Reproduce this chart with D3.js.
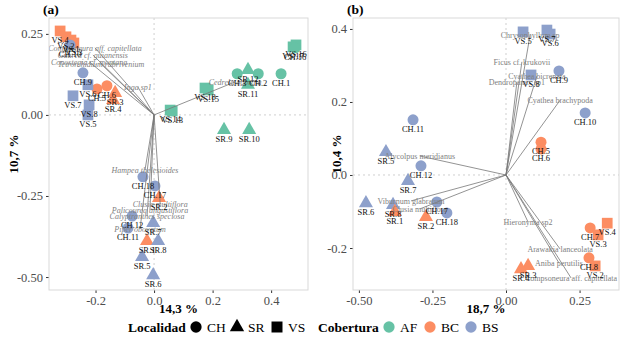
<!DOCTYPE html>
<html><head><meta charset="utf-8">
<script src="https://cdn.jsdelivr.net/npm/d3@7"></script>
<style>
body{margin:0;background:#fff;}
svg text{font-family:'Liberation Serif','Times New Roman',Times,'DejaVu Serif',serif !important;}
</style></head>
<body><svg id="c" width="623" height="343"></svg>
<script>
// ---------- Panel (a) data ----------
const aLabels = ["VS.18","VS.15","VS.14","VS.13","VS.17","VS.16","CH.16","CH.3","CH.2","CH.1","SR.12","SR.11","SR.9","SR.10",
  "VS.4","VS.2","VS.1","VS.3","CH.5","CH.6","SR.3","SR.4","SR.2","SR.1",
  "CH.10","CH.9","VS.6","VS.7","VS.8","VS.5","CH.18","CH.17","CH.12","CH.11","SR.7","SR.8","SR.5","SR.6"];
const aX = [0.174,0.185,0.055,0.062,0.475,0.485,0.482,0.284,0.356,0.434,0.321,0.321,0.239,0.325,
  -0.321,-0.301,-0.284,-0.274,-0.195,-0.161,-0.133,-0.140,0.017,-0.024,
  -0.287,-0.243,-0.226,-0.277,-0.222,-0.226,-0.038,0.003,-0.075,-0.089,-0.003,0.014,-0.041,-0.003];
const aY = [0.083,0.077,0.015,0.012,0.210,0.216,0.207,0.127,0.127,0.127,0.139,0.093,-0.046,-0.046,
  0.259,0.241,0.231,0.222,0.080,0.090,0.068,0.046,-0.256,-0.389,
  0.216,0.130,0.093,0.059,0.031,0.000,-0.191,-0.219,-0.312,-0.349,-0.333,-0.389,-0.438,-0.494];
const aLoc = aLabels.map(l => l.split(".")[0]);
const aCov = ["AF","AF","AF","AF","AF","AF","AF","AF","AF","AF","AF","AF","AF","AF",
  "BC","BC","BC","BC","BC","BC","BC","BC","BC","BC",
  "BS","BS","BS","BS","BS","BS","BS","BS","BS","BS","BS","BS","BS","BS"];
const aSpecies = ["Compsoneura aff. capitellata","Guarea cf. guianensis","Conostegia cf. montana","Tetrorchidium rubrivenium",
  "Inga sp1","Cedrela odorata","Hampea thelesioides","Clusia multiflora","Palicourea angustiflora","Calyptranthes speciosa","Piper obovatum"];
const aSpX = [-0.202,-0.209,-0.222,-0.181,-0.055,0.277,-0.031,0.021,-0.014,-0.024,-0.048];
const aSpY = [0.207,0.185,0.164,0.157,0.086,0.102,-0.170,-0.275,-0.293,-0.312,-0.352];
const aXTicks = [-0.2,0,0.2,0.4], aXTickLabels = ["-0.2","0.0","0.2","0.4"];
const aYTicks = [0.25,0,-0.25,-0.5], aYTickLabels = ["0.25","0.00","-0.25","-0.50"];

// ---------- Panel (b) data ----------
const bLabels = ["VS.5","VS.7","VS.6","VS.8","CH.9","CH.10","CH.11","SR.5","CH.12","SR.7","SR.6","SR.8","CH.17","CH.18",
  "SR.1","SR.2","CH.5","CH.6","CH.7","VS.4","VS.3","CH.8","VS.2","SR.3","SR.4"];
const bX = [0.058,0.139,0.150,0.085,0.180,0.269,-0.316,-0.408,-0.289,-0.333,-0.476,-0.384,-0.235,-0.201,
  -0.378,-0.272,0.119,0.119,0.286,0.344,0.313,0.282,0.303,0.075,0.051];
const bY = [0.392,0.397,0.386,0.274,0.285,0.170,0.151,0.063,0.025,-0.016,-0.077,-0.082,-0.074,-0.104,
  -0.101,-0.115,0.090,0.071,-0.145,-0.132,-0.164,-0.227,-0.249,-0.249,-0.258];
const bLoc = bLabels.map(l => l.split(".")[0]);
const bCov = ["BS","BS","BS","BS","BS","BS","BS","BS","BS","BS","BS","BS","BS","BS",
  "BC","BC","BC","BC","BC","BC","BC","BC","BC","BC","BC"];
const bSpecies = ["Chrysophyllum sp","Ficus cf. krukovii","Cyathea bicrenata","Dendropanax sp1","Cyathea brachypoda",
  "Alycolpus meridianus","Viburnum glabratum","Clusia multiflora","Hieronyma sp2","Arawakia lanceolata","Aniba perutilis","Compsoneura aff. capitellata"];
const bSpX = [0.082,0.054,0.105,0.037,0.184,-0.293,-0.323,-0.293,0.075,0.184,0.180,0.221];
const bSpY = [0.384,0.310,0.271,0.255,0.205,0.052,-0.071,-0.093,-0.129,-0.203,-0.241,-0.282];
const bXTicks = [-0.5,-0.25,0,0.25], bXTickLabels = ["-0.50","-0.25","0.00","0.25"];
const bYTicks = [0.4,0.2,0,-0.2], bYTickLabels = ["0.4","0.2","0.0","-0.2"];

const covColors = {AF:"#66c2a5", BC:"#fc8d62", BS:"#8da0cb"};
const covLevels = ["AF","BC","BS"];
const locLevels = ["CH","SR","VS"];

const svg = d3.select("#c");

function shapePath(loc, s){
  s = s || 1;
  if(loc==="CH") return d3.symbol(d3.symbolCircle, 95*s)();
  if(loc==="SR") return d3.symbol(d3.symbolTriangle, 85*s)();
  return d3.symbol(d3.symbolSquare, 115*s)();
}

function panel(opt){
  const x = d3.scaleLinear().domain(opt.xd).range([opt.l, opt.r]);
  const y = d3.scaleLinear().domain(opt.yd).range([opt.b, opt.t]);
  const g = svg.append("g");
  const cid = "clip"+opt.title.replace(/\W/g,"");
  svg.append("defs").append("clipPath").attr("id",cid).append("rect")
    .attr("x",opt.l).attr("y",opt.t).attr("width",opt.r-opt.l).attr("height",opt.b-opt.t);
  const gi = g.append("g").attr("clip-path",`url(#${cid})`);
  gi.append("line").attr("x1",x(0)).attr("x2",x(0)).attr("y1",opt.t).attr("y2",opt.b)
    .attr("stroke","#cfcfcf").attr("stroke-dasharray","2,3").attr("stroke-width",1);
  gi.append("line").attr("x1",opt.l).attr("x2",opt.r).attr("y1",y(0)).attr("y2",y(0))
    .attr("stroke","#cfcfcf").attr("stroke-dasharray","2,3").attr("stroke-width",1);
  const xa = d3.axisBottom(x).tickValues(opt.xt).tickFormat((d,i)=>opt.xtl[i]).tickSize(3).tickPadding(3);
  const ya = d3.axisLeft(y).tickValues(opt.yt).tickFormat((d,i)=>opt.ytl[i]).tickSize(3).tickPadding(3);
  const gx = g.append("g").attr("transform",`translate(0,${opt.b})`).call(xa);
  const gy = g.append("g").attr("transform",`translate(${opt.l},0)`).call(ya);
  [gx,gy].forEach(a=>{
    a.attr("font-family",null);
    a.select(".domain").remove();
    a.selectAll("line").attr("stroke","#333");
    a.selectAll("text").attr("fill","#4d4d4d").style("font-size","12.5px");
  });
  g.append("rect").attr("x",opt.l).attr("y",opt.t).attr("width",opt.r-opt.l).attr("height",opt.b-opt.t)
    .attr("fill","none").attr("stroke","#d9d9d9").attr("stroke-width",1);
  const pts = opt.labels.map((l,i)=>({l, x:opt.px[i], y:opt.py[i], loc:opt.loc[i], cov:opt.cov[i]}));
  gi.selectAll("path.pt").data(pts).join("path").attr("class","pt")
    .attr("d",d=>shapePath(d.loc))
    .attr("transform",d=>`translate(${x(d.x)},${y(d.y)})`)
    .attr("fill",d=>covColors[d.cov]);
  const sp = opt.sp.map((s,i)=>({s, x:opt.spx[i], y:opt.spy[i]}));
  gi.selectAll("line.vec").data(sp).join("line").attr("class","vec")
    .attr("x1",x(0)).attr("y1",y(0)).attr("x2",d=>x(d.x)).attr("y2",d=>y(d.y))
    .attr("stroke","#777").attr("stroke-width",0.8);
  gi.selectAll("text.sp").data(sp).join("text").attr("class","sp")
    .attr("x",d=>x(d.x)).attr("y",d=>y(d.y)).attr("dy","0.35em")
    .attr("text-anchor","middle").attr("fill","#808080")
    .style("font-size","8px").style("font-style",opt.italic?"italic":"normal")
    .text(d=>d.s);
  gi.selectAll("text.lab").data(pts).join("text").attr("class","lab")
    .attr("x",d=>x(d.x)).attr("y",d=>y(d.y)+12)
    .attr("text-anchor","middle").attr("fill","#111")
    .style("font-size","8.5px").text(d=>d.l);
  svg.append("text").attr("x",opt.l-6).attr("y",14).attr("font-weight","bold").style("font-size","13.5px").text(opt.title);
  svg.append("text").attr("x",(opt.l+opt.r)/2).attr("y",313).attr("text-anchor","middle")
    .attr("font-weight","bold").style("font-size","13px").text(opt.xlab);
  svg.append("text").attr("transform",`translate(${opt.yl},${(opt.t+opt.b)/2}) rotate(-90)`)
    .attr("text-anchor","middle").attr("font-weight","bold").style("font-size","13px").text(opt.ylab);
}

panel({l:49,r:308,t:18,b:290,xd:[-0.359,0.526],yd:[-0.540,0.299],
  xt:aXTicks,xtl:aXTickLabels,yt:aYTicks,ytl:aYTickLabels,
  labels:aLabels,px:aX,py:aY,loc:aLoc,cov:aCov,sp:aSpecies,spx:aSpX,spy:aSpY,italic:true,
  title:"(a)",xlab:"14,3 %",ylab:"10,7 %",yl:18});
panel({l:353,r:619,t:18,b:290,xd:[-0.520,0.384],yd:[-0.315,0.430],
  xt:bXTicks,xtl:bXTickLabels,yt:bYTicks,ytl:bYTickLabels,
  labels:bLabels,px:bX,py:bY,loc:bLoc,cov:bCov,sp:bSpecies,spx:bSpX,spy:bSpY,italic:false,
  title:"(b)",xlab:"18,7 %",ylab:"10,4 %",yl:341});

// legend
const lg = svg.append("g").style("font-size","13.5px");
lg.append("text").attr("x",128).attr("y",332).attr("font-weight","bold").text("Localidad");
const locX = [196,237,277];
locLevels.forEach((l,i)=>{
  lg.append("path").attr("d",shapePath(l,1.05)).attr("transform",`translate(${locX[i]},327)`).attr("fill","#000");
  lg.append("text").attr("x",locX[i]+11).attr("y",332).text(l);
});
lg.append("text").attr("x",318).attr("y",332).attr("font-weight","bold").text("Cobertura");
const covX = [389,430,471];
covLevels.forEach((c,i)=>{
  lg.append("path").attr("d",shapePath("CH",1.05)).attr("transform",`translate(${covX[i]},327)`).attr("fill",covColors[c]);
  lg.append("text").attr("x",covX[i]+11).attr("y",332).text(c);
});
</script></body></html>
